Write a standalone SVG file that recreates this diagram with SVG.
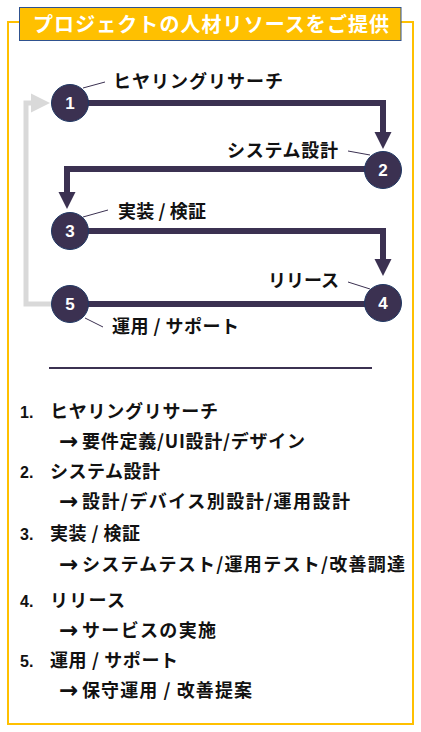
<svg xmlns="http://www.w3.org/2000/svg" width="421" height="732" viewBox="0 0 421 732">
<style>
.jp{font-family:"Noto Sans CJK JP","Noto Sans",sans-serif;font-weight:bold;font-size:18px;fill:#111}
.arr{font-family:"DejaVu Sans",sans-serif;font-weight:bold;font-size:23px;fill:#111}
.num{font-family:"Liberation Sans","DejaVu Sans",sans-serif;font-weight:bold;font-size:16px;fill:#111}
.cn{font-family:"Liberation Sans","DejaVu Sans",sans-serif;font-weight:bold;font-size:17px;fill:#fff;text-anchor:middle}
.node circle{fill:#3b3151;stroke:#203864;stroke-width:1}
.lead{stroke:#3b3151;stroke-width:1;fill:none}
.flow{stroke:#3b3151;stroke-width:6;fill:none;stroke-linejoin:miter}
.back{stroke:#d9d9d9;stroke-width:5;fill:none;stroke-linejoin:miter}
</style>
<defs>
<marker id="ah" markerUnits="userSpaceOnUse" markerWidth="18" markerHeight="18" viewBox="0 -9 18 18" refX="1" refY="0" orient="auto">
<path d="M0,-8.5 L17,0 L0,8.5 Z" fill="#3b3151"/>
</marker>
<marker id="ahg" markerUnits="userSpaceOnUse" markerWidth="20" markerHeight="20" viewBox="0 -10 20 20" refX="1" refY="0" orient="auto">
<path d="M0,-9.5 L19,0 L0,9.5 Z" fill="#d9d9d9"/>
</marker>
</defs>
<rect x="8" y="22" width="405" height="702" fill="#fff" stroke="#ffc000" stroke-width="2"/>
<g id="title">
<rect x="19.5" y="7.5" width="381.5" height="33" fill="#ffc000" stroke="#2f528f" stroke-width="1"/>
<text x="33" y="31.5" textLength="356" lengthAdjust="spacing" style="font-family:'Noto Sans CJK JP','Noto Sans',sans-serif;font-weight:bold;font-size:20px;fill:#fff">プロジェクトの人材リソースをご提供</text>
</g>
<g id="connectors">
<path class="back" d="M51 304 H26 V103 H32" marker-end="url(#ahg)"/>
<path class="flow" d="M87 103 H383 V133" marker-end="url(#ah)"/>
<path class="flow" d="M365 169 H67 V193" marker-end="url(#ah)"/>
<path class="flow" d="M87 231 H383 V260" marker-end="url(#ah)"/>
<path class="flow" d="M87 304 H366"/>
<path class="lead" d="M83 88 L105 82"/>
<path class="lead" d="M348 151 L370 155"/>
<path class="lead" d="M83 217 L108 210"/>
<path class="lead" d="M348 282 L370 289"/>
<path class="lead" d="M85 318 L103 327"/>
</g>
<g id="node1" class="node"><circle cx="70" cy="103" r="18.5"/><text class="cn" x="70" y="109">1</text><text class="jp" x="113" y="88" textLength="170" lengthAdjust="spacing">ヒヤリングリサーチ</text></g>
<g id="node2" class="node"><circle cx="383" cy="170" r="18.5"/><text class="cn" x="383" y="176">2</text><text class="jp" x="227" y="157" textLength="111" lengthAdjust="spacing">システム設計</text></g>
<g id="node3" class="node"><circle cx="70" cy="231" r="18.5"/><text class="cn" x="70" y="237">3</text><text class="jp" x="118" y="218" textLength="88" lengthAdjust="spacing">実装 / 検証</text></g>
<g id="node4" class="node"><circle cx="383" cy="303" r="18.5"/><text class="cn" x="383" y="309">4</text><text class="jp" x="268" y="287" textLength="71" lengthAdjust="spacing">リリース</text></g>
<g id="node5" class="node"><circle cx="70" cy="304" r="18.5"/><text class="cn" x="70" y="310">5</text><text class="jp" x="112" y="333" textLength="127" lengthAdjust="spacing">運用 / サポート</text></g>
<line x1="49" y1="368" x2="372" y2="368" stroke="#3b3151" stroke-width="2"/>
<g id="list">
<text class="num" x="20" y="418">1.</text><text class="jp" x="50" y="418" textLength="168" lengthAdjust="spacing">ヒヤリングリサーチ</text>
<text class="arr" x="59" y="449">→</text><text class="jp" x="82" y="448" textLength="223" lengthAdjust="spacing">要件定義/UI設計/デザイン</text>
<text class="num" x="20" y="478">2.</text><text class="jp" x="50" y="478" textLength="110" lengthAdjust="spacing">システム設計</text>
<text class="arr" x="59" y="509">→</text><text class="jp" x="82" y="508" textLength="268" lengthAdjust="spacing">設計/デバイス別設計/運用設計</text>
<text class="num" x="20" y="540">3.</text><text class="jp" x="50" y="540" textLength="90" lengthAdjust="spacing">実装 / 検証</text>
<text class="arr" x="59" y="572">→</text><text class="jp" x="82" y="571" textLength="323" lengthAdjust="spacing">システムテスト/運用テスト/改善調達</text>
<text class="num" x="20" y="607">4.</text><text class="jp" x="50" y="607" textLength="75" lengthAdjust="spacing">リリース</text>
<text class="arr" x="59" y="638">→</text><text class="jp" x="82" y="637" textLength="134" lengthAdjust="spacing">サービスの実施</text>
<text class="num" x="20" y="667">5.</text><text class="jp" x="50" y="667" textLength="128" lengthAdjust="spacing">運用 / サポート</text>
<text class="arr" x="59" y="698">→</text><text class="jp" x="82" y="697" textLength="170" lengthAdjust="spacing">保守運用 / 改善提案</text>
</g>
</svg>
